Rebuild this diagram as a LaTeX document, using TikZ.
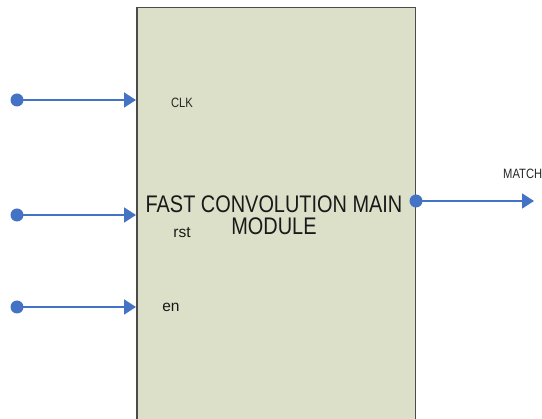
\documentclass[tikz,border=0pt]{standalone}
\usepackage{fontspec}
\setmainfont{Liberation Sans}
\newfontfamily\condsans[FakeStretch=0.83]{Liberation Sans}
\usetikzlibrary{arrows.meta}
\definecolor{boxfill}{RGB}{221,224,201}
\definecolor{boxline}{RGB}{75,75,75}
\definecolor{wireblue}{RGB}{68,114,196}
\tikzset{
  modulebox/.style={draw=boxline, line width=1.5pt, fill=boxfill, inner sep=0pt},
  portdot/.style={circle, fill=wireblue, inner sep=0pt, minimum size=13pt},
  wire/.style={draw=wireblue, line width=1.8pt, -{Triangle[length=12pt,width=15pt]}},
  bigtxt/.style={font=\condsans\fontsize{24}{24}\selectfont, text=black!90, inner sep=0pt, anchor=base},
  smalltxt/.style={font=\condsans\fontsize{13.5}{13.5}\selectfont, text=black!85, inner sep=0pt},
  pintxt/.style={font=\fontsize{15.5}{15.5}\selectfont, text=black!90, inner sep=0pt}
}
\begin{document}
\begin{tikzpicture}[x=1pt,y=-1pt]
\useasboundingbox (0,0) rectangle (542,419);
\clip (0,0) rectangle (542,419);
\node[modulebox, minimum width=278.5pt, minimum height=443pt, anchor=north west] (box) at (136,7) {};
% inputs
\node[portdot] (dclk) at (17,100) {};
\node[portdot] (drst) at (17,215) {};
\node[portdot] (den) at (17,307) {};
\draw[wire] (dclk.center) -- (dclk.center -| box.west);
\draw[wire] (drst.center) -- (drst.center -| box.west);
\draw[wire] (den.center) -- (den.center -| box.west);
% output
\coordinate (outend) at (534,201);
\draw[wire] (outend -| box.east) -- (outend);
\node[portdot] (dout) at (outend -| box.east) {};
% labels
\node[smalltxt] (lclk) at (182,103) {CLK};
\node[pintxt] (lrst) at (182,233) {rst};
\node[pintxt] (len) at (171,307) {en};
\node[smalltxt, anchor=west] (lmatch) at (503,173.5) {MATCH};
\node[bigtxt] (title1) at (274,213) {FAST CONVOLUTION MAIN};
\node[bigtxt] (title2) at (274,235) {MODULE};
\end{tikzpicture}
\end{document}
